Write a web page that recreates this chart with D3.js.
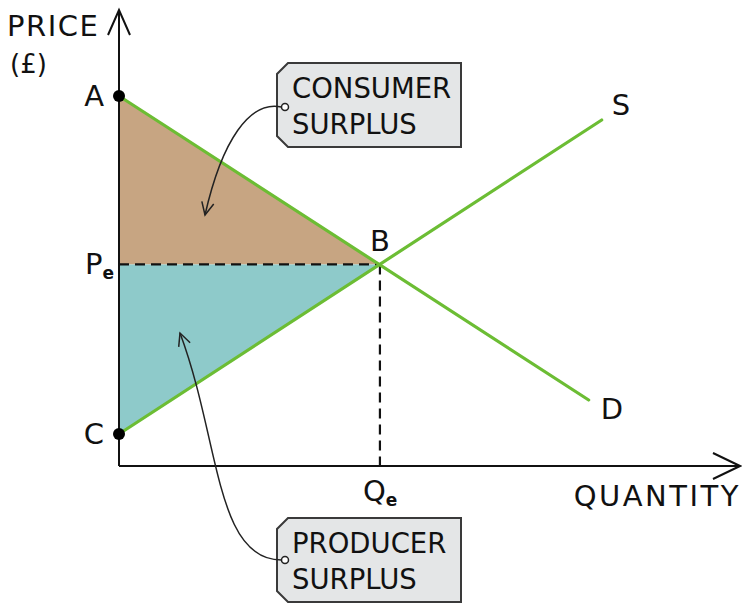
<!DOCTYPE html>
<html>
<head>
<meta charset="utf-8">
<script src="https://cdn.jsdelivr.net/npm/d3@7"></script>
<style>
  body { margin: 0; background: #fff; }
  svg text { font-family: "DejaVu Sans", sans-serif; fill: #111; }
</style>
</head>
<body>
<div id="okvir"></div>
<script>
// podaci (kolicina, cijena)
const demandLine = [[0, 9.25], [9.0, 1.65]];
const supplyLine = [[0, 0.8], [9.25, 8.65]];
const equilibrium = { q: 5, p: 5.04 };
const pointLabels = [
  { name: "A", q: 0, p: 9.25 },
  { name: "C", q: 0, p: 0.8 }
];
const axisMax = { q: 11.9, p: 11.4 };
const calloutTexts = [["CONSUMER", "SURPLUS"], ["PRODUCER", "SURPLUS"]];

function crtaj() {
  const width = 742, height = 604;
  const margin = { top: 10, right: 2, bottom: 138, left: 119 };

  const svg = d3.select("#okvir").append("svg")
    .attr("width", width).attr("height", height);

  const x = d3.scaleLinear().domain([0, axisMax.q]).range([margin.left, width - margin.right]);
  const y = d3.scaleLinear().domain([0, axisMax.p]).range([height - margin.bottom, margin.top]);

  const ex = x(equilibrium.q), ey = y(equilibrium.p);

  // podrucja viska
  svg.append("path")
    .attr("d", d3.line()([[x(0), y(demandLine[0][1])], [ex, ey], [x(0), ey]]))
    .attr("fill", "#c7a582");
  svg.append("path")
    .attr("d", d3.line()([[x(0), ey], [ex, ey], [x(0), y(supplyLine[0][1])]]))
    .attr("fill", "#8ecaca");

  // isprekidane linije
  svg.append("line")
    .attr("x1", x(0)).attr("x2", ex).attr("y1", ey).attr("y2", ey)
    .attr("stroke", "#111").attr("stroke-width", 2.2).attr("stroke-dasharray", "10,6");
  svg.append("line")
    .attr("x1", ex).attr("x2", ex).attr("y1", ey).attr("y2", y(0))
    .attr("stroke", "#111").attr("stroke-width", 2.2).attr("stroke-dasharray", "10,6");

  // krivulje potraznje i ponude
  const line = d3.line().x(d => x(d[0])).y(d => y(d[1]));
  [demandLine, supplyLine].forEach(d => {
    svg.append("path").attr("d", line(d))
      .attr("fill", "none").attr("stroke", "#6cbd34").attr("stroke-width", 3.2)
      .attr("stroke-linecap", "round");
  });

  // osi
  const ax = svg.append("g").attr("stroke", "#111").attr("stroke-width", 2).attr("fill", "none");
  ax.append("line").attr("x1", x(0)).attr("x2", x(0)).attr("y1", y(0)).attr("y2", y(axisMax.p));
  ax.append("line").attr("x1", x(0)).attr("x2", x(axisMax.q)).attr("y1", y(0)).attr("y2", y(0));
  ax.append("path").attr("d", `M${x(0) - 11},${y(axisMax.p) + 25}L${x(0)},${y(axisMax.p)}L${x(0) + 11},${y(axisMax.p) + 25}`);
  ax.append("path").attr("d", `M${x(axisMax.q) - 27},${y(0) - 13}L${x(axisMax.q)},${y(0)}L${x(axisMax.q) - 27},${y(0) + 13}`);

  // tocke A i C
  svg.selectAll(".dot").data(pointLabels).enter().append("circle")
    .attr("cx", d => x(d.q)).attr("cy", d => y(d.p)).attr("r", 6).attr("fill", "#000");
  svg.selectAll(".plab").data(pointLabels).enter().append("text")
    .attr("x", d => x(d.q) - 15).attr("y", d => y(d.p) + 10)
    .attr("text-anchor", "end").style("font-size", "29px").text(d => d.name);

  svg.append("text").attr("x", ex).attr("y", ey - 13).attr("text-anchor", "middle")
    .style("font-size", "29px").text("B");

  // oznake krivulja
  svg.append("text").attr("x", x(supplyLine[1][0]) + 10).attr("y", y(supplyLine[1][1]) - 5)
    .style("font-size", "29px").text("S");
  svg.append("text").attr("x", x(demandLine[1][0]) + 12).attr("y", y(demandLine[1][1]) + 19)
    .style("font-size", "29px").text("D");

  // Pe i Qe
  const pe = svg.append("text").attr("x", 85).attr("y", ey + 10).style("font-size", "29px");
  pe.append("tspan").text("P");
  pe.append("tspan").attr("dy", 5).style("font-size", "17px").style("font-weight", "bold").text("e");
  const qe = svg.append("text").attr("x", ex - 17).attr("y", y(0) + 35).style("font-size", "29px");
  qe.append("tspan").text("Q");
  qe.append("tspan").attr("dy", 5).style("font-size", "17px").style("font-weight", "bold").text("e");

  // naslovi osi
  svg.append("text").attr("x", 7).attr("y", 36).style("font-size", "29px").style("letter-spacing", "1.5px").text("PRICE");
  svg.append("text").attr("x", 10).attr("y", 73).style("font-size", "26px").text("(£)");
  svg.append("text").attr("x", 741).attr("y", 506).attr("text-anchor", "end")
    .style("font-size", "29px").style("letter-spacing", "2.5px").text("QUANTITY");

  // oblacici
  const boxes = [
    { x0: 277, y0: 63, w: 184, h: 84, hole: [285, 107], tip: [205, 215],
      c1: [250, 100], c2: [222, 140] },
    { x0: 277, y0: 518, w: 184, h: 84, hole: [285, 560], tip: [180, 333],
      c1: [215, 560], c2: [220, 440] }
  ];
  boxes.forEach((b, i) => {
    const c = 11;
    svg.append("path")
      .attr("d", `M${b.x0 + c},${b.y0}H${b.x0 + b.w}V${b.y0 + b.h}H${b.x0 + c}L${b.x0},${b.y0 + b.h - c}V${b.y0 + c}Z`)
      .attr("fill", "#e4e6e7").attr("stroke", "#3a3a3a").attr("stroke-width", 2);
    svg.append("circle").attr("cx", b.hole[0]).attr("cy", b.hole[1]).attr("r", 3.5)
      .attr("fill", "#fff").attr("stroke", "#222").attr("stroke-width", 1.5);
    const t = svg.append("text").attr("x", b.x0 + 15).attr("y", b.y0 + 35).style("font-size", "27.5px");
    t.append("tspan").text(calloutTexts[i][0]);
    t.append("tspan").attr("x", b.x0 + 15).attr("dy", 36).text(calloutTexts[i][1]);

    const p = d3.path();
    p.moveTo(b.hole[0] - 3.5, b.hole[1]);
    p.bezierCurveTo(b.c1[0], b.c1[1], b.c2[0], b.c2[1], b.tip[0], b.tip[1]);
    svg.append("path").attr("d", p.toString()).attr("fill", "none")
      .attr("stroke", "#222").attr("stroke-width", 1.5);
    // vrh strelice
    const ang = Math.atan2(b.tip[1] - b.c2[1], b.tip[0] - b.c2[0]);
    const L = 14, s = 0.45;
    svg.append("path")
      .attr("d", `M${b.tip[0] - L * Math.cos(ang - s)},${b.tip[1] - L * Math.sin(ang - s)}L${b.tip[0]},${b.tip[1]}L${b.tip[0] - L * Math.cos(ang + s)},${b.tip[1] - L * Math.sin(ang + s)}`)
      .attr("fill", "none").attr("stroke", "#222").attr("stroke-width", 1.5);
  });
}
crtaj();
</script>
</body>
</html>
